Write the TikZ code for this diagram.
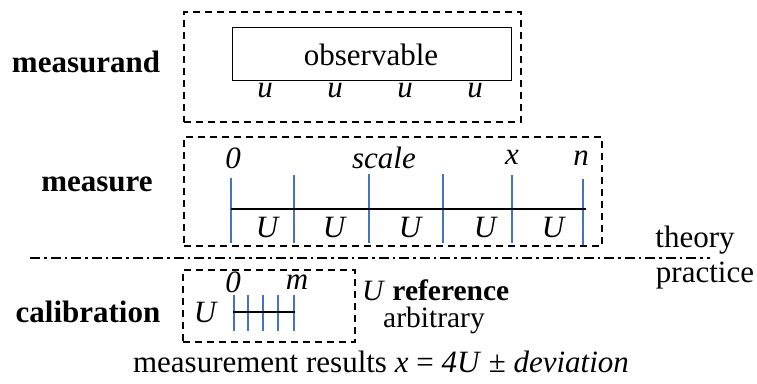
\documentclass[tikz,border=0pt]{standalone}
\usepackage{fontspec}
\setmainfont{Liberation Serif}
\definecolor{tickblue}{HTML}{4472C4}
\begin{document}
\begin{tikzpicture}[x=1pt,y=-1pt,
  dbox/.style={draw, line width=1.8pt, dash pattern=on 7pt off 5pt, inner sep=0pt},
  sbox/.style={draw, line width=1pt, inner sep=0pt},
  tickline/.style={draw=tickblue, line width=1.2pt},
  axis/.style={draw, line width=1.5pt},
  txt/.style={font=\fontsize{31}{36}\selectfont, inner sep=0pt},
  stxt/.style={font=\fontsize{29.5}{34}\selectfont, inner sep=0pt},
  btxt/.style={font=\fontsize{31}{36}\selectfont\bfseries, inner sep=0pt},
  itxt/.style={font=\fontsize{31}{36}\selectfont\itshape, inner sep=0pt},
  dashdot/.style={draw, line width=1.2pt, dash pattern=on 10pt off 4pt on 2.5pt off 4pt}]
\useasboundingbox (0,0) rectangle (757,383);
% measurand
\node[dbox, minimum width=337pt, minimum height=110pt] (mbox) at (352.5,67) {};
\node[sbox, minimum width=279pt, minimum height=53pt] (obs) at (371.5,53.5) {};
\node[txt] (obstxt) at (371,55) {observable};
\node[itxt] (u1) at (265,91) {u};
\node[itxt] (u2) at (335,91) {u};
\node[itxt] (u3) at (405,91) {u};
\node[itxt] (u4) at (475,91) {u};
\node[btxt] (lmeasurand) at (86,62) {measurand};
% measure
\node[dbox, minimum width=418pt, minimum height=109pt] (sbox) at (393,191.5) {};
\coordinate (t0a) at (231,178); \coordinate (t0b) at (231,243);
\coordinate (t1a) at (294,175); \coordinate (t1b) at (294,243);
\coordinate (t2a) at (369,174); \coordinate (t2b) at (369,243);
\coordinate (t3a) at (443,174); \coordinate (t3b) at (443,243);
\coordinate (t4a) at (512,175); \coordinate (t4b) at (512,243);
\coordinate (t5a) at (583,179); \coordinate (t5b) at (583,245);
\foreach \i in {0,...,5} {\draw[tickline] (t\i a) -- (t\i b);}
\coordinate (axL) at (231,209); \coordinate (axR) at (586,209);
\draw[axis] (axL) -- (axR);
\node[itxt] (l0) at (233,158) {0};
\node[itxt] (lscale) at (384,158) {scale};
\node[itxt] (lx) at (512,157) {x};
\node[itxt] (ln) at (581,158) {n};
\node[itxt] (U1) at (267,227) {U};
\node[itxt] (U2) at (334,227) {U};
\node[itxt] (U3) at (410,227) {U};
\node[itxt] (U4) at (485,227) {U};
\node[itxt] (U5) at (553,227) {U};
\node[btxt] (lmeasure) at (97,184) {measure};
% theory / practice
\coordinate (ddL) at (30,258); \coordinate (ddR) at (710,258);
\draw[dashdot] (ddL) -- (ddR);
\node[txt] (ltheory) at (695,240) {theory};
\node[txt] (lpractice) at (705,276) {practice};
% calibration
\node[dbox, minimum width=172pt, minimum height=72pt] (cbox) at (269,306) {};
\foreach \i/\xx in {0/234,1/248,2/263,3/278,4/294} {
  \coordinate (c\i a) at (\xx,295); \coordinate (c\i b) at (\xx,331);
  \draw[tickline] (c\i a) -- (c\i b);}
\coordinate (caL) at (233,312); \coordinate (caR) at (295,312);
\draw[axis] (caL) -- (caR);
\node[itxt] (cl0) at (233,282) {0};
\node[itxt] (clm) at (297,282) {m};
\node[itxt] (cU) at (205,312) {U};
\node[stxt, anchor=base west, text depth=0pt] (lref) at (362,300) {\textit{U} \textbf{reference}};
\node[stxt, anchor=base] (larb) at (434,327) {arbitrary};
\node[btxt] (lcal) at (88,312) {calibration};
% result
\node[txt] (lres) at (381,362) {measurement results \textit{x} = \textit{4U} ± \textit{deviation}};
\end{tikzpicture}
\end{document}
